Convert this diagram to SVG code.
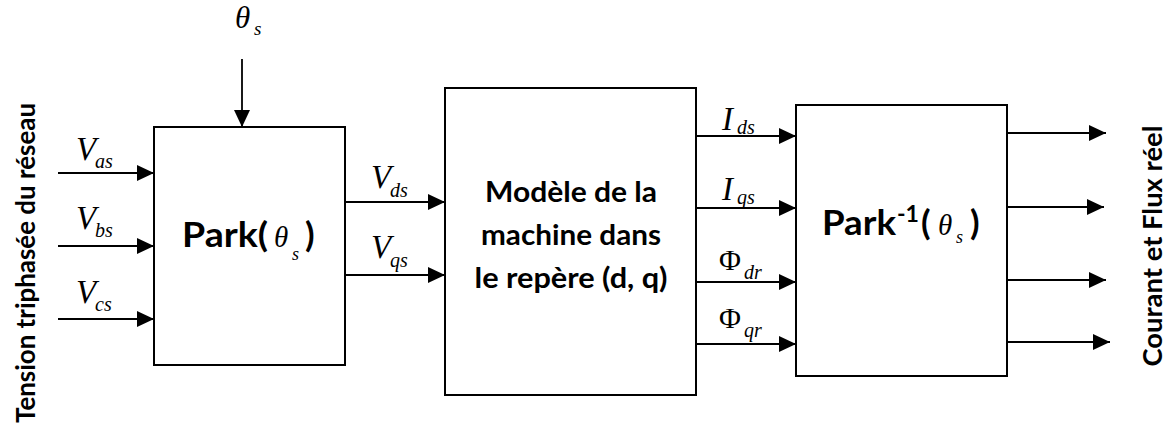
<svg xmlns="http://www.w3.org/2000/svg" width="1168" height="439" viewBox="0 0 1168 439">
<style>
.box{fill:#fff;stroke:#000;stroke-width:2}
.ln{stroke:#000;stroke-width:1.8;fill:none}
.b{font-family:Lato,"Open Sans","Liberation Sans",sans-serif;font-weight:bold;fill:#000}
.m{font-family:"Liberation Serif","Times New Roman",serif;font-style:italic;fill:#000}
.up{font-family:"Liberation Serif","Times New Roman",serif;fill:#000}
</style>
<defs>
<marker id="ah" markerUnits="userSpaceOnUse" markerWidth="18" markerHeight="16" refX="17" refY="8" orient="auto">
<path d="M0,0 L17,8 L0,16 z" fill="#000"/>
</marker>
</defs>
<rect width="1168" height="439" fill="#fff"/>

<g id="connectors">
<line class="ln" x1="242" y1="59" x2="242" y2="127" marker-end="url(#ah)"/>
<line class="ln" x1="58" y1="173" x2="154" y2="173" marker-end="url(#ah)"/>
<line class="ln" x1="58" y1="246" x2="154" y2="246" marker-end="url(#ah)"/>
<line class="ln" x1="58" y1="319" x2="154" y2="319" marker-end="url(#ah)"/>
<line class="ln" x1="345" y1="202" x2="445" y2="202" marker-end="url(#ah)"/>
<line class="ln" x1="345" y1="275" x2="445" y2="275" marker-end="url(#ah)"/>
<line class="ln" x1="696" y1="136" x2="796" y2="136" marker-end="url(#ah)"/>
<line class="ln" x1="696" y1="208" x2="796" y2="208" marker-end="url(#ah)"/>
<line class="ln" x1="696" y1="282" x2="796" y2="282" marker-end="url(#ah)"/>
<line class="ln" x1="696" y1="344" x2="796" y2="344" marker-end="url(#ah)"/>
<line class="ln" x1="1005" y1="133" x2="1106" y2="133" marker-end="url(#ah)"/>
<line class="ln" x1="1005" y1="207" x2="1104" y2="207" marker-end="url(#ah)"/>
<line class="ln" x1="1005" y1="280" x2="1106" y2="280" marker-end="url(#ah)"/>
<line class="ln" x1="1007" y1="342" x2="1110" y2="342" marker-end="url(#ah)"/>
</g>

<g id="labels">
<text class="m" x="235" y="28" font-size="31">θ</text><text class="m" x="254" y="35" font-size="19">s</text>
<text class="m" x="76" y="160" font-size="33">V</text><text class="m" x="95" y="168" font-size="20">as</text>
<text class="m" x="76" y="229" font-size="33">V</text><text class="m" x="95" y="237" font-size="20">bs</text>
<text class="m" x="76" y="303" font-size="33">V</text><text class="m" x="95" y="311" font-size="20">cs</text>
<text class="m" x="371" y="188" font-size="33">V</text><text class="m" x="390" y="197" font-size="20">ds</text>
<text class="m" x="371" y="258" font-size="33">V</text><text class="m" x="390" y="267" font-size="20">qs</text>
<text class="m" x="722" y="130" font-size="33">I</text><text class="m" x="737" y="134" font-size="20">ds</text>
<text class="m" x="722" y="200" font-size="33">I</text><text class="m" x="737" y="204" font-size="20">qs</text>
<text class="up" x="719" y="270" font-size="30">Φ</text><text class="m" x="744" y="279" font-size="20">dr</text>
<text class="up" x="719" y="328" font-size="30">Φ</text><text class="m" x="744" y="337" font-size="20">qr</text>
<text class="b" transform="translate(35,263) rotate(-90)" text-anchor="middle" font-size="26.5" textLength="320" lengthAdjust="spacingAndGlyphs">Tension triphasée du réseau</text>
<text class="b" transform="translate(1162,246) rotate(-90)" text-anchor="middle" font-size="26.5" textLength="241" lengthAdjust="spacingAndGlyphs">Courant et Flux réel</text>
</g>

<g id="park">
<rect class="box" x="154" y="127" width="191" height="238"/>
<text class="b" x="182" y="247" font-size="35" textLength="86" lengthAdjust="spacingAndGlyphs">Park(</text>
<text class="m" x="274" y="247" font-size="29">θ</text><text class="m" x="292" y="260" font-size="18">s</text>
<text class="b" x="305" y="247" font-size="35">)</text>
</g>

<g id="model">
<rect class="box" x="445" y="88" width="251" height="307"/>
<text class="b" x="571" y="202" font-size="29" text-anchor="middle" textLength="172" lengthAdjust="spacingAndGlyphs">Modèle de la</text>
<text class="b" x="571" y="245" font-size="29" text-anchor="middle" textLength="180" lengthAdjust="spacingAndGlyphs">machine dans</text>
<text class="b" x="571" y="288" font-size="29" text-anchor="middle" textLength="193" lengthAdjust="spacingAndGlyphs">le repère (d, q)</text>
</g>

<g id="parkinv">
<rect class="box" x="796" y="105" width="211" height="271"/>
<text class="b" x="822" y="235" font-size="35" textLength="74" lengthAdjust="spacingAndGlyphs">Park</text>
<text class="b" x="897" y="222" font-size="23" textLength="22" lengthAdjust="spacingAndGlyphs">-1</text>
<text class="b" x="921" y="235" font-size="35">(</text>
<text class="m" x="938" y="235" font-size="29">θ</text><text class="m" x="956" y="243" font-size="18">s</text>
<text class="b" x="970" y="235" font-size="35">)</text>
</g>
</svg>
